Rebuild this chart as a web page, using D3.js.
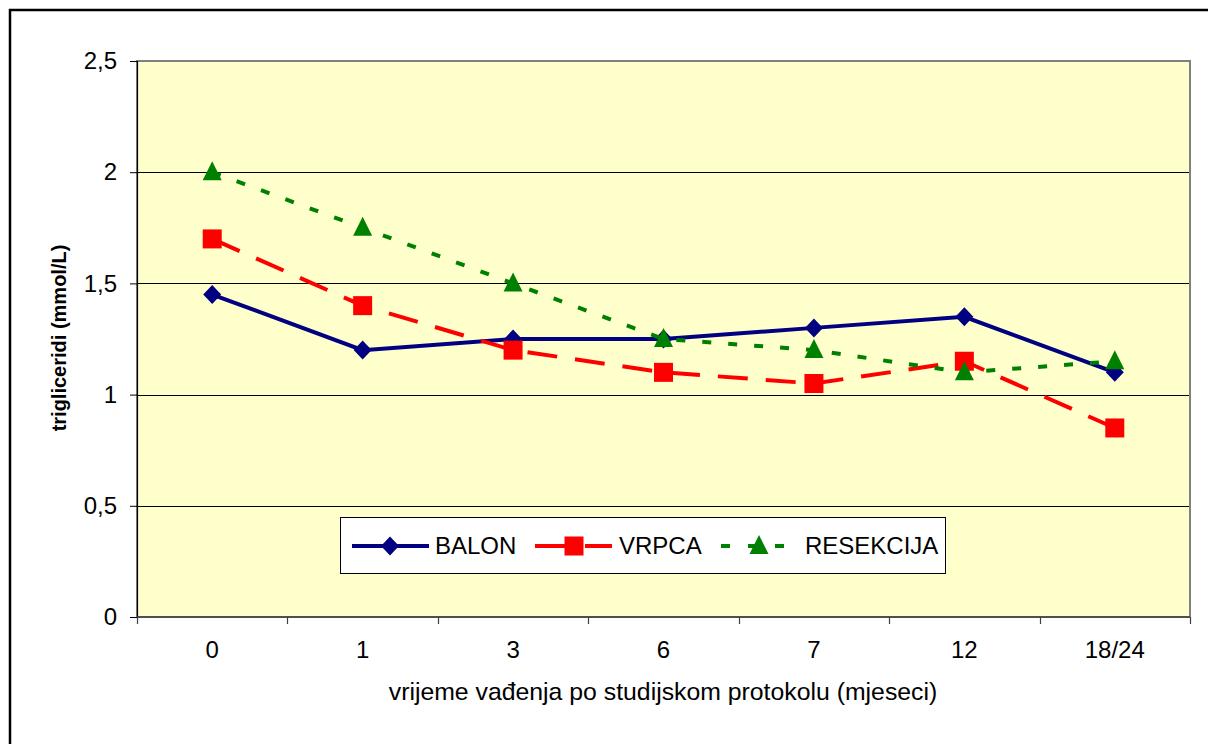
<!DOCTYPE html>
<html>
<head>
<meta charset="utf-8">
<script src="https://cdn.jsdelivr.net/npm/d3@7"></script>
<style>
  html, body { margin: 0; padding: 0; background: #ffffff; }
  svg { display: block; font-family: "Liberation Sans", Arial, sans-serif; }
</style>
</head>
<body>
<svg id="chart" width="1208" height="744"></svg>
<script>
// Sampling times (months) and mean triglyceride values per group
const categories = ["0", "1", "3", "6", "7", "12", "18/24"];
const balon     = [1.45, 1.20, 1.25, 1.25, 1.30, 1.35, 1.10];
const vrpca     = [1.70, 1.40, 1.20, 1.10, 1.05, 1.15, 0.85];
const resekcija = [2.00, 1.75, 1.50, 1.25, 1.20, 1.10, 1.15];
const yTicks    = [0, 0.5, 1, 1.5, 2, 2.5];
const seriesNames = ["BALON", "VRPCA", "RESEKCIJA"];

const series = [
  { name: seriesNames[0], values: balon,     color: "#000080", dash: null,    marker: "diamond" },
  { name: seriesNames[1], values: vrpca,     color: "#FF0000", dash: "30,18", marker: "square" },
  { name: seriesNames[2], values: resekcija, color: "#008000", dash: "9,17",  marker: "triangle" }
];

const FONT = "Liberation Sans, Arial, sans-serif";
const svg = d3.select("#chart");
const plot = { left: 137, top: 61, right: 1190, bottom: 617 };

// Outer chart frame (runs past the right/bottom edge)
svg.append("rect")
  .attr("x", 10).attr("y", 10)
  .attr("width", 1220).attr("height", 760)
  .attr("fill", "#ffffff").attr("stroke", "#000000").attr("stroke-width", 2.5);

const x = d3.scaleBand().domain(categories).range([plot.left, plot.right]).padding(0);
const y = d3.scaleLinear().domain([0, 2.5]).range([plot.bottom, plot.top]);

// Plot background
svg.append("rect")
  .attr("x", plot.left).attr("y", plot.top)
  .attr("width", plot.right - plot.left).attr("height", plot.bottom - plot.top)
  .attr("fill", "#FFFFCC");

// Horizontal gridlines
svg.append("g").selectAll("line")
  .data(yTicks.filter(d => d > 0 && d < 2.5))
  .join("line")
  .attr("x1", plot.left).attr("x2", plot.right)
  .attr("y1", d => Math.round(y(d)) + 0.5).attr("y2", d => Math.round(y(d)) + 0.5)
  .attr("stroke", "#000000").attr("stroke-width", 1);

// Plot border
svg.append("rect")
  .attr("x", plot.left).attr("y", plot.top)
  .attr("width", plot.right - plot.left).attr("height", plot.bottom - plot.top)
  .attr("fill", "none").attr("stroke", "#808080").attr("stroke-width", 2);

const fmt = d => String(d).replace(".", ",");

// Y axis
const yAxis = svg.append("g")
  .attr("transform", `translate(${plot.left},0)`)
  .call(d3.axisLeft(y).tickValues(yTicks).tickFormat(fmt).tickSize(7).tickPadding(13));
yAxis.select(".domain").attr("stroke", "#000000").attr("stroke-width", 1.2);
yAxis.selectAll(".tick line").attr("stroke", "#000000");
yAxis.selectAll(".tick text")
  .attr("font-size", 24).attr("fill", "#000000").attr("font-family", FONT);

// X axis: labels centred in each category, ticks between categories
const xAxis = svg.append("g")
  .attr("transform", `translate(0,${plot.bottom})`)
  .call(d3.axisBottom(x).tickSize(0).tickPadding(24));
xAxis.select(".domain").remove();
xAxis.selectAll(".tick text")
  .attr("font-size", 24).attr("fill", "#000000").attr("font-family", FONT);
svg.append("line")
  .attr("x1", plot.left).attr("x2", plot.right)
  .attr("y1", plot.bottom).attr("y2", plot.bottom)
  .attr("stroke", "#404040").attr("stroke-width", 1.5);
const bounds = categories.map(c => x(c)).concat([x(categories[categories.length - 1]) + x.bandwidth()]);
svg.append("g").selectAll("line")
  .data(bounds)
  .join("line")
  .attr("x1", d => Math.round(d) + 0.5).attr("x2", d => Math.round(d) + 0.5)
  .attr("y1", plot.bottom).attr("y2", plot.bottom + 7)
  .attr("stroke", "#404040").attr("stroke-width", 1.2);

// Axis titles
svg.append("text")
  .attr("x", 663).attr("y", 700)
  .attr("text-anchor", "middle")
  .attr("font-size", 24.8).attr("fill", "#000000")
  .text("vrijeme vađenja po studijskom protokolu (mjeseci)");

svg.append("text")
  .attr("transform", "translate(66,338) rotate(-90)")
  .attr("text-anchor", "middle")
  .attr("font-size", 20).attr("font-weight", "bold").attr("fill", "#000000")
  .text("trigliceridi (mmol/L)");

// Marker shapes
function markerPath(type) {
  if (type === "diamond") return "M0,-9.5L9,0L0,9.5L-9,0Z";
  if (type === "square") return "M-9.5,-9.5H9.5V9.5H-9.5Z";
  return "M0,-11L9.5,8H-9.5Z";
}

const cx = c => x(c) + x.bandwidth() / 2;
const line = d3.line().x(d => cx(d.cat)).y(d => y(d.v));

series.forEach(s => {
  const pts = categories.map((c, i) => ({ cat: c, v: s.values[i] }));
  const g = svg.append("g");
  g.append("path")
    .datum(pts)
    .attr("d", line)
    .attr("fill", "none")
    .attr("stroke", s.color)
    .attr("stroke-width", 4)
    .attr("stroke-dasharray", s.dash);
  g.selectAll("path.m")
    .data(pts)
    .join("path")
    .attr("class", "m")
    .attr("transform", d => `translate(${cx(d.cat)},${y(d.v)})`)
    .attr("d", markerPath(s.marker))
    .attr("fill", s.color);
});

// Legend
const legend = svg.append("g");
legend.append("rect")
  .attr("x", 340.5).attr("y", 517.5).attr("width", 605).attr("height", 56)
  .attr("fill", "#ffffff").attr("stroke", "#000000").attr("stroke-width", 1);

const legendItems = [
  { s: series[0], x0: 352, x1: 429, mx: 390, tx: 435, dash: null },
  { s: series[1], x0: 535, x1: 612, mx: 574, tx: 619, dash: "30,20" },
  { s: series[2], x0: 721, x1: 789, mx: 759, tx: 805, dash: "9,18" }
];
const ly = 546;
legendItems.forEach(it => {
  legend.append("line")
    .attr("x1", it.x0).attr("x2", it.x1).attr("y1", ly).attr("y2", ly)
    .attr("stroke", it.s.color).attr("stroke-width", 4)
    .attr("stroke-dasharray", it.dash);
  legend.append("path")
    .attr("transform", `translate(${it.mx},${ly})`)
    .attr("d", markerPath(it.s.marker))
    .attr("fill", it.s.color);
  legend.append("text")
    .attr("x", it.tx).attr("y", ly + 8)
    .attr("font-size", 24).attr("fill", "#000000")
    .text(it.s.name);
});
</script>
</body>
</html>
